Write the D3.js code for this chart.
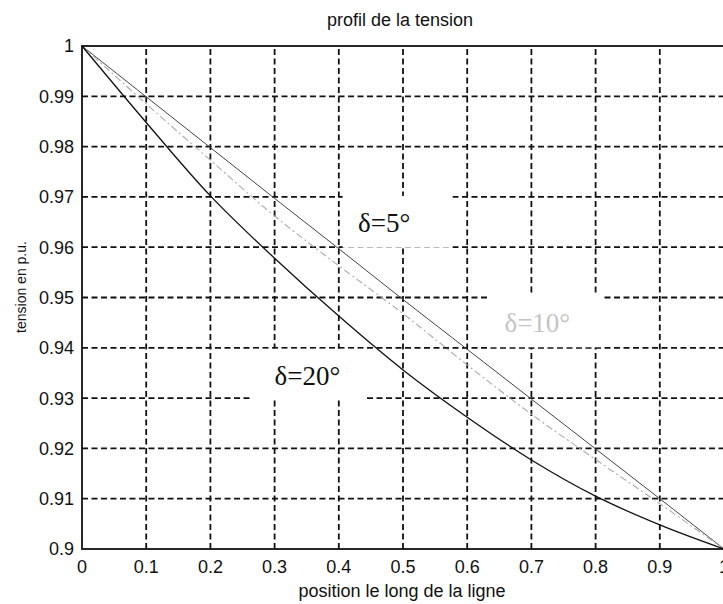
<!DOCTYPE html>
<html>
<head>
<meta charset="utf-8">
<script src="https://cdn.jsdelivr.net/npm/d3@7"></script>
<style>
  html, body { margin: 0; padding: 0; background: #fff; }
  svg { display: block; }
</style>
</head>
<body>
<svg id="chart" width="723" height="604"></svg>
<script>
// Position along the line (p.u. of length)
const positions = [0, 0.1, 0.2, 0.3, 0.4, 0.5, 0.6, 0.7, 0.8, 0.9, 1.0];

// Voltage profile (p.u.) for each load angle
const tension5  = [1, 0.9899, 0.9798, 0.9697, 0.9597, 0.9496, 0.9397, 0.9298, 0.9199, 0.9100, 0.9];
const tension10 = [1, 0.9885, 0.9773, 0.9662, 0.9563, 0.9468, 0.9366, 0.9268, 0.9178, 0.9090, 0.9];
const tension20 = [1, 0.9848, 0.9702, 0.9578, 0.9463, 0.9356, 0.9262, 0.9177, 0.9105, 0.9048, 0.9];

// Axis ticks
const xTicks = [0, 0.1, 0.2, 0.3, 0.4, 0.5, 0.6, 0.7, 0.8, 0.9, 1];
const yTicks = [0.9, 0.91, 0.92, 0.93, 0.94, 0.95, 0.96, 0.97, 0.98, 0.99, 1];
const xTickLabels = ["0", "0.1", "0.2", "0.3", "0.4", "0.5", "0.6", "0.7", "0.8", "0.9", "1"];
const yTickLabels = ["0.9", "0.91", "0.92", "0.93", "0.94", "0.95", "0.96", "0.97", "0.98", "0.99", "1"];

const svg = d3.select("#chart");
const plotLeft = 82, plotRight = 724, plotTop = 46, plotBottom = 549;

const x = d3.scaleLinear().domain([0, 1]).range([plotLeft, plotRight]);
const y = d3.scaleLinear().domain([0.9, 1]).range([plotBottom, plotTop]);

const sans = "'Liberation Sans', Arial, sans-serif";
const serif = "'Liberation Serif', 'Times New Roman', serif";

// Dashed grid
const grid = svg.append("g").attr("stroke", "#111").attr("stroke-width", 1.8)
  .attr("stroke-dasharray", "6,3.5").attr("fill", "none");
grid.selectAll("line.v").data(xTicks.slice(1, -1)).join("line").attr("class", "v")
  .attr("x1", d => x(d)).attr("x2", d => x(d))
  .attr("y1", plotBottom).attr("y2", plotTop);
grid.selectAll("line.h").data(yTicks.slice(1, -1)).join("line").attr("class", "h")
  .attr("x1", plotLeft).attr("x2", plotRight)
  .attr("y1", d => y(d)).attr("y2", d => y(d));

// Label boxes that mask the grid behind the annotations
const labels = [
  { text: "δ=5°",  px: 0.43,  pv: 0.963,  box: [0.406, 0.577, 0.9702, 0.9599], color: "#111" },
  { text: "δ=10°", px: 0.658, pv: 0.9431, box: [0.635, 0.81, 0.9503, 0.9401], color: "#c4c4c4" },
  { text: "δ=20°", px: 0.3,   pv: 0.9327, box: [0.266, 0.441, 0.9398, 0.9297], color: "#111" }
];
svg.append("g").selectAll("rect").data(labels).join("rect")
  .attr("x", d => x(d.box[0])).attr("width", d => x(d.box[1]) - x(d.box[0]))
  .attr("y", d => y(d.box[2])).attr("height", d => y(d.box[3]) - y(d.box[2]))
  .attr("fill", "#fff");

// Curves
const series = [
  { values: tension5,  stroke: "#444", width: 1.0, dash: null },
  { values: tension10, stroke: "#aaa", width: 1.1, dash: "7,3,2,3" },
  { values: tension20, stroke: "#111", width: 1.3, dash: null }
];
const line = d3.line().x((d, i) => x(positions[i])).y(d => y(d)).curve(d3.curveCatmullRom);
svg.append("g").selectAll("path").data(series).join("path")
  .attr("d", d => line(d.values))
  .attr("fill", "none")
  .attr("stroke", d => d.stroke)
  .attr("stroke-width", d => d.width)
  .attr("stroke-dasharray", d => d.dash);

// Annotations
svg.append("g").selectAll("text").data(labels).join("text")
  .attr("x", d => x(d.px)).attr("y", d => y(d.pv))
  .attr("font-family", serif).attr("font-size", 27)
  .attr("fill", d => d.color)
  .text(d => d.text);

// Frame
svg.append("rect").attr("x", plotLeft).attr("y", plotTop)
  .attr("width", plotRight - plotLeft).attr("height", plotBottom - plotTop)
  .attr("fill", "none").attr("stroke", "#111").attr("stroke-width", 1.8);

// Tick labels
svg.append("g").selectAll("text").data(xTicks).join("text")
  .attr("x", d => x(d)).attr("y", 573)
  .attr("text-anchor", "middle")
  .attr("font-family", sans).attr("font-size", 18).attr("fill", "#111")
  .text((d, i) => xTickLabels[i]);
svg.append("g").selectAll("text").data(yTicks).join("text")
  .attr("x", 74).attr("y", d => y(d)).attr("dy", "0.36em")
  .attr("text-anchor", "end")
  .attr("font-family", sans).attr("font-size", 18).attr("fill", "#111")
  .text((d, i) => yTickLabels[i]);

// Titles
svg.append("text").attr("x", 400).attr("y", 26).attr("text-anchor", "middle")
  .attr("font-family", sans).attr("font-size", 18).attr("fill", "#111")
  .text("profil de la tension");
svg.append("text").attr("x", 402).attr("y", 597).attr("text-anchor", "middle")
  .attr("font-family", sans).attr("font-size", 18).attr("fill", "#111")
  .text("position le long de la ligne");
svg.append("text").attr("transform", "translate(26,287) rotate(-90)")
  .attr("text-anchor", "middle")
  .attr("font-family", sans).attr("font-size", 14).attr("fill", "#111")
  .text("tension en p.u.");
</script>
</body>
</html>
